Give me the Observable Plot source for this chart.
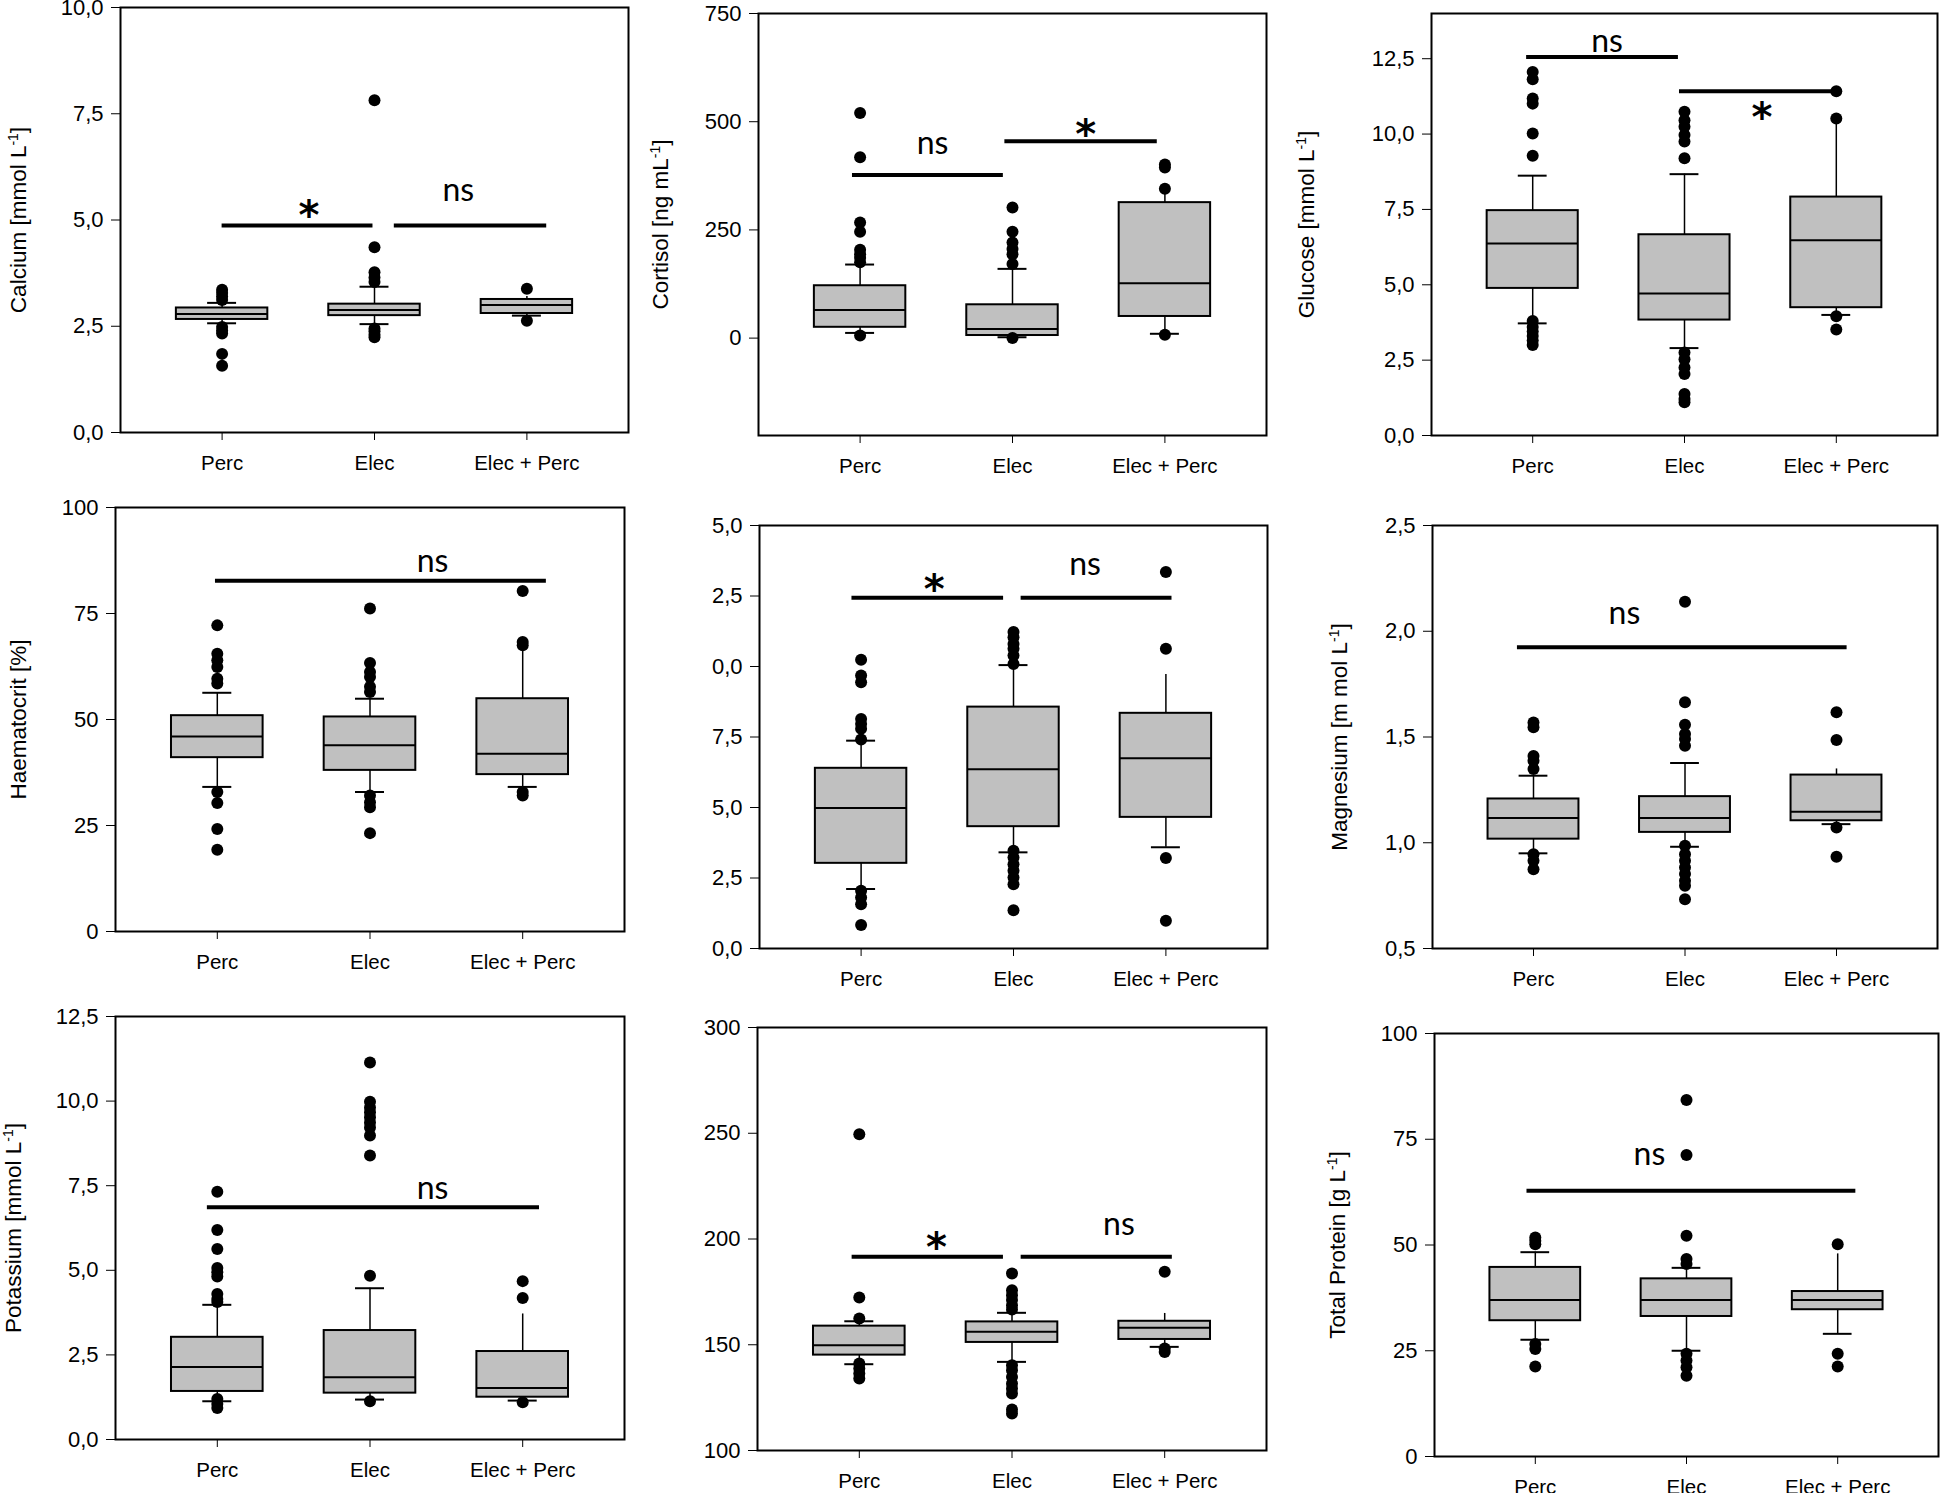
<!DOCTYPE html>
<html><head><meta charset="utf-8">
<script src="https://cdn.jsdelivr.net/npm/d3@7"></script>
<script src="https://cdn.jsdelivr.net/npm/@observablehq/plot@0.6"></script>
<style>
body{margin:0;background:#fff;}
#chart{position:relative;width:1943px;height:1493px;overflow:hidden;background:#fff;}
#chart svg{position:absolute;left:0;top:0;}
</style></head><body><div id="chart"></div>
<script>
// ---------- data ----------
const groups = ["Perc", "Elec", "Elec + Perc"];
const groupIndex = [1, 2, 3];
const upperCap = [true, true, false];

// each stats row: [lower whisker, Q1, median, Q3, upper whisker]
const calciumStats = [[2.57, 2.66, 2.79, 2.93, 3.05], [2.55, 2.75, 2.88, 3.02, 3.43], [2.75, 2.80, 3.00, 3.13, 3.20]];
const calciumOutliers = [[3.36, 3.28, 3.20, 3.12, 2.48, 2.40, 2.33, 1.85, 1.57], [7.82, 4.36, 3.77, 3.65, 3.54, 2.45, 2.38, 2.30, 2.24], [3.38, 2.63]];
const calciumBars = [[1.0, 1.99, 4.87], [2.13, 3.13, 4.87]];
const calciumNotes = [["*", 1.57, 5.32], ["ns", 2.55, 5.6]];
const calciumTicks = [0, 2.5, 5, 7.5, 10];
const calciumTickLabels = ["0,0", "2,5", "5,0", "7,5", "10,0"];

const cortisolStats = [[12, 25, 65, 121, 170], [2, 6, 21, 77, 160], [10, 50, 127, 313, 340]];
const cortisolOutliers = [[520, 418, 267, 246, 204, 194, 185, 175, 6], [302, 246, 221, 206, 194, 171, 0], [401, 394, 345, 8]];
const cortisolBars = [[0.95, 1.94, 377], [1.95, 2.95, 455]];
const cortisolNotes = [["ns", 1.475, 440], ["*", 2.48, 492]];
const cortisolTicks = [0, 250, 500, 750];
const cortisolTickLabels = ["0", "250", "500", "750"];

const glucoseStats = [[3.72, 4.88, 6.37, 7.46, 8.62], [2.90, 3.83, 4.71, 6.66, 8.67], [4.0, 4.24, 6.48, 7.91, 10.4]];
const glucoseOutliers = [[12.06, 11.82, 11.18, 11.01, 10.02, 9.28, 3.8, 3.6, 3.45, 3.3, 3.15, 3.0], [10.74, 10.46, 10.24, 9.97, 9.75, 9.20, 2.75, 2.53, 2.26, 2.04, 1.38, 1.21, 1.10], [11.42, 10.52, 3.96, 3.52]];
const glucoseBars = [[0.96, 1.96, 12.56], [1.967, 3.0, 11.42]];
const glucoseNotes = [["ns", 1.49, 12.94], ["*", 2.51, 10.85]];
const glucoseTicks = [0, 2.5, 5, 7.5, 10, 12.5];
const glucoseTickLabels = ["0,0", "2,5", "5,0", "7,5", "10,0", "12,5"];

const haematocritStats = [[34.1, 41.0, 46.0, 50.9, 56.3], [32.9, 38.0, 43.9, 50.6, 54.9], [34.1, 37.0, 41.9, 54.9, 67.1]];
const haematocritOutliers = [[72.2, 65.5, 64.0, 62.4, 59.6, 58.5, 32.9, 30.3, 24.2, 19.3], [76.2, 63.3, 61.2, 60.0, 57.7, 56.5, 32.1, 30.5, 29.3, 23.2], [80.3, 68.3, 67.5, 32.9, 32.1]];
const haematocritBars = [[0.988, 3.155, 82.7]];
const haematocritNotes = [["ns", 2.41, 86.2]];
const haematocritTicks = [0, 25, 50, 75, 100];
const haematocritTickLabels = ["0", "25", "50", "75", "100"];

const panelEStats = [[2.11, 3.02, 4.98, 6.39, 7.37], [3.41, 4.32, 6.36, 8.56, 10.05], [3.59, 4.65, 6.75, 8.34, 9.72]];
const panelEOutliers = [[10.24, 9.68, 9.44, 8.14, 7.96, 7.79, 7.41, 2.05, 1.81, 1.57, 0.83], [11.22, 11.04, 10.80, 10.63, 10.39, 10.09, 3.47, 3.23, 2.99, 2.76, 2.52, 2.28, 1.36], [13.35, 10.63, 3.21, 0.98]];
const panelEBars = [[0.94, 1.935, 12.44], [2.05, 3.04, 12.44]];
const panelENotes = [["*", 1.48, 13.05], ["ns", 2.47, 13.47]];
const panelETicks = [0, 2.5, 5, 7.5, 10, 12.5, 15];
const panelETickLabels = ["0,0", "2,5", "5,0", "7,5", "0,0", "2,5", "5,0"];

const magnesiumStats = [[0.95, 1.017, 1.117, 1.207, 1.317], [0.981, 1.049, 1.117, 1.218, 1.377], [1.088, 1.104, 1.147, 1.32, 1.349]];
const magnesiumOutliers = [[1.569, 1.546, 1.41, 1.388, 1.349, 0.946, 0.915, 0.875], [2.14, 1.664, 1.558, 1.514, 1.49, 1.459, 0.986, 0.946, 0.915, 0.883, 0.852, 0.82, 0.797, 0.733], [1.617, 1.486, 1.072, 0.934]];
const magnesiumBars = [[0.894, 3.07, 1.924]];
const magnesiumNotes = [["ns", 1.6, 2.066]];
const magnesiumTicks = [0.5, 1, 1.5, 2, 2.5];
const magnesiumTickLabels = ["0,5", "1,0", "1,5", "2,0", "2,5"];

const potassiumStats = [[1.13, 1.42, 2.14, 3.02, 3.98], [1.18, 1.37, 1.84, 3.22, 4.47], [1.15, 1.25, 1.52, 2.60, 3.71]];
const potassiumOutliers = [[7.32, 6.19, 5.63, 5.07, 4.94, 4.82, 4.30, 4.15, 4.06, 1.20, 1.05, 0.93], [11.14, 9.98, 9.81, 9.67, 9.52, 9.37, 9.22, 8.98, 8.39, 4.84, 1.13], [4.68, 4.18, 1.10]];
const potassiumBars = [[0.935, 3.11, 6.86]];
const potassiumNotes = [["ns", 2.41, 7.30]];
const potassiumTicks = [0, 2.5, 5, 7.5, 10, 12.5];
const potassiumTickLabels = ["0,0", "2,5", "5,0", "7,5", "10,0", "12,5"];

const panelHStats = [[140.8, 145.1, 149.8, 158.8, 161.1], [141.9, 151.1, 156.1, 160.8, 165.1], [149.0, 152.5, 158.0, 161.1, 164.8]];
const panelHOutliers = [[249.5, 172.3, 162.4, 141.1, 138.8, 136.4, 134.0], [183.7, 175.8, 173.4, 171.1, 168.7, 166.7, 140.3, 138.0, 134.8, 131.7, 129.3, 126.9, 119.4, 117.5], [184.5, 148.2, 146.6]];
const panelHBars = [[0.953, 1.944, 191.6], [2.06, 3.05, 191.6]];
const panelHNotes = [["*", 1.505, 200.2], ["ns", 2.70, 205]];
const panelHTicks = [100, 150, 200, 250, 300];
const panelHTickLabels = ["100", "150", "200", "250", "300"];

const proteinStats = [[27.6, 32.1, 37.0, 44.7, 48.3], [25.0, 33.1, 37.0, 42.0, 44.6], [29.0, 34.7, 37.0, 39.0, 47.9]];
const proteinOutliers = [[51.8, 51.0, 50.2, 26.6, 25.4, 21.3], [84.3, 71.3, 52.2, 46.7, 45.5, 24.3, 22.7, 21.1, 19.1], [50.2, 24.3, 21.3]];
const proteinBars = [[0.945, 3.12, 62.8]];
const proteinNotes = [["ns", 1.755, 70.3]];
const proteinTicks = [0, 25, 50, 75, 100];
const proteinTickLabels = ["0", "25", "50", "75", "100"];

// ---------- panel definitions ----------
const panels = [
  {title: "Calcium [mmol L^-1]", domain: [0, 10], ticks: calciumTicks, tickLabels: calciumTickLabels, stats: calciumStats, outliers: calciumOutliers, bars: calciumBars, notes: calciumNotes},
  {title: "Cortisol [ng mL^-1]", domain: [-225, 750], ticks: cortisolTicks, tickLabels: cortisolTickLabels, stats: cortisolStats, outliers: cortisolOutliers, bars: cortisolBars, notes: cortisolNotes},
  {title: "Glucose [mmol L^-1]", domain: [0, 14], ticks: glucoseTicks, tickLabels: glucoseTickLabels, stats: glucoseStats, outliers: glucoseOutliers, bars: glucoseBars, notes: glucoseNotes},
  {title: "Haematocrit [%]", domain: [0, 100], ticks: haematocritTicks, tickLabels: haematocritTickLabels, stats: haematocritStats, outliers: haematocritOutliers, bars: haematocritBars, notes: haematocritNotes},
  {title: null, domain: [0, 15], ticks: panelETicks, tickLabels: panelETickLabels, stats: panelEStats, outliers: panelEOutliers, bars: panelEBars, notes: panelENotes},
  {title: "Magnesium [m mol L^-1]", domain: [0.5, 2.5], ticks: magnesiumTicks, tickLabels: magnesiumTickLabels, stats: magnesiumStats, outliers: magnesiumOutliers, bars: magnesiumBars, notes: magnesiumNotes},
  {title: "Potassium [mmol L^-1]", domain: [0, 12.5], ticks: potassiumTicks, tickLabels: potassiumTickLabels, stats: potassiumStats, outliers: potassiumOutliers, bars: potassiumBars, notes: potassiumNotes},
  {title: null, domain: [100, 300], ticks: panelHTicks, tickLabels: panelHTickLabels, stats: panelHStats, outliers: panelHOutliers, bars: panelHBars, notes: panelHNotes},
  {title: "Total Protein [g L^-1]", domain: [0, 100], ticks: proteinTicks, tickLabels: proteinTickLabels, stats: proteinStats, outliers: proteinOutliers, bars: proteinBars, notes: proteinNotes}
];

// ---------- layout (frame left, top, right, bottom; label offset) ----------
const W = 1943, H = 1493;
const layout = [
  [120, 7, 628, 432, 110], [758, 13, 1266, 435, 106], [1431, 13, 1937, 435, 133],
  [115, 507, 624, 931, 105], [759, 525, 1267, 948, 0], [1432, 525, 1937, 948, 101],
  [115, 1016, 624, 1439, 110], [757, 1027, 1266, 1450, 0], [1434, 1033, 1938, 1456, 105]
];

const hw = 0.3, cw = 0.095;
const chart = document.getElementById("chart");

panels.forEach((p, n) => {
  const [L, T, R, B, off] = layout[n];
  const boxes = p.stats.map((s, k) => ({i: groupIndex[k], lo: s[0], q1: s[1], med: s[2], q3: s[3], hi: s[4], cap: upperCap[k]}));
  const pts = p.outliers.flatMap((vs, k) => vs.map(v => ({i: groupIndex[k], v})));
  const bars = p.bars.map(([a, b, y]) => ({a, b, y}));
  const notes = p.notes.map(([t, x, y]) => ({t, x, y}));
  const svg = Plot.plot({
    width: W, height: H,
    marginLeft: L, marginTop: T, marginRight: W - R, marginBottom: H - B,
    style: {background: "transparent", overflow: "visible", fontFamily: "'Liberation Sans', Arial, sans-serif", fontSize: "20.5px", color: "black"},
    x: {type: "linear", domain: [1 / 3, 11 / 3], ticks: groupIndex, tickFormat: d => groups[groupIndex.indexOf(d)], tickSize: 8, tickPadding: 15, label: null},
    y: {domain: p.domain, ticks: p.ticks, tickFormat: d => p.tickLabels[p.ticks.indexOf(d)], tickSize: 9, tickPadding: 8,
        label: p.title, labelAnchor: "center", labelOffset: off, labelArrow: "none"},
    marks: [
      Plot.ruleX(boxes, {x: "i", y1: "q3", y2: "hi", strokeWidth: 1.5}),
      Plot.ruleX(boxes, {x: "i", y1: "lo", y2: "q1", strokeWidth: 1.5}),
      Plot.rect(boxes, {x1: d => d.i - hw, x2: d => d.i + hw, y1: "q1", y2: "q3", fill: "#c0c0c0", stroke: "black", strokeWidth: 2}),
      Plot.ruleY(boxes, {x1: d => d.i - hw, x2: d => d.i + hw, y: "med", strokeWidth: 2}),
      Plot.ruleY(boxes.filter(d => d.cap), {x1: d => d.i - cw, x2: d => d.i + cw, y: "hi", strokeWidth: 2}),
      Plot.ruleY(boxes, {x1: d => d.i - cw, x2: d => d.i + cw, y: "lo", strokeWidth: 2}),
      Plot.dot(pts, {x: "i", y: "v", r: 6, fill: "black"}),
      Plot.ruleY(bars, {x1: "a", x2: "b", y: "y", strokeWidth: 4}),
      Plot.text(notes.filter(d => d.t !== "*"), {x: "x", y: "y", text: "t", fontFamily: "Lato, 'Open Sans', sans-serif", fontSize: 32, dy: -4}),
      Plot.text(notes.filter(d => d.t === "*"), {x: "x", y: "y", text: "t", fontFamily: "'DejaVu Sans', sans-serif", fontSize: 40, fontWeight: "bold", dy: 10}),
      Plot.frame({stroke: "black", strokeWidth: 2})
    ]
  });
  const s3 = d3.select(svg);
  s3.selectAll('g[aria-label="y-axis tick label"] text').style("font-size", "22px");
  s3.selectAll('g[aria-label="y-axis label"] text').style("font-size", "22.5px");
  // superscript in axis titles
  s3.selectAll("text").each(function () {
    const raw = this.textContent;
    if (!raw.includes("^")) return;
    const s = raw.replace(/[↑↓]/g, "").trim();
    const m = s.match(/^(.*)\^(\S+?)(\].*)$/);
    if (!m) return;
    const t = d3.select(this);
    t.text(null);
    t.append("tspan").text(m[1]);
    t.append("tspan").attr("dy", "-8px").attr("font-size", "14px").text(m[2]);
    t.append("tspan").attr("dy", "8px").text(m[3]);
  });
  chart.appendChild(svg);
});
</script></body></html>
